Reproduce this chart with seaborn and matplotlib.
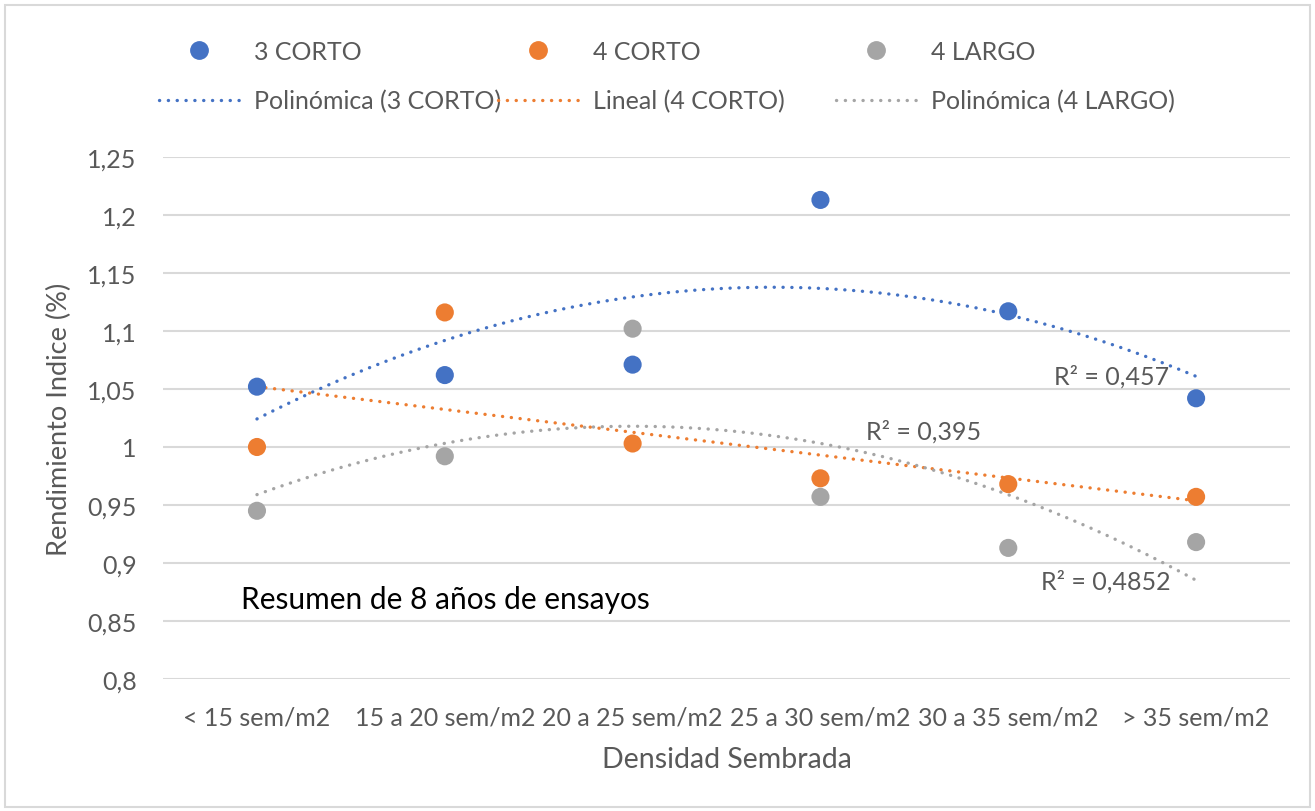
import numpy as np
import pandas as pd
import matplotlib
matplotlib.use('Agg')
import matplotlib.pyplot as plt
from matplotlib.patches import Rectangle
from matplotlib.lines import Line2D
import seaborn as sns

# datos
categorias = ['< 15 sem/m2', '15 a 20 sem/m2', '20 a 25 sem/m2',
              '25 a 30 sem/m2', '30 a 35 sem/m2', '> 35 sem/m2']
corto3 = [1.052, 1.062, 1.071, 1.213, 1.117, 1.042]
corto4 = [1.000, 1.116, 1.003, 0.973, 0.968, 0.957]
largo4 = [0.945, 0.992, 1.102, 0.957, 0.913, 0.918]
series = ['3 CORTO', '4 CORTO', '4 LARGO']
tendencias = ['Polinómica (3 CORTO)', 'Lineal (4 CORTO)', 'Polinómica (4 LARGO)']
grados = [2, 1, 2]
r2_textos = ['R² = 0,457', 'R² = 0,395', 'R² = 0,4852']
yticks = [0.8, 0.85, 0.9, 0.95, 1.0, 1.05, 1.1, 1.15, 1.2, 1.25]

colores = ['#4472C4', '#ED7D31', '#A5A5A5']
gris_txt = '#595959'
punteado = (0, (0.05, 2.6))

sns.set_theme(style='white')
plt.rcParams['font.family'] = ['Lato', 'DejaVu Sans']

x = np.arange(1, len(categorias) + 1)
df = pd.DataFrame({'x': np.tile(x, 3),
                   'y': corto3 + corto4 + largo4,
                   'serie': np.repeat(series, len(x))})

fig = plt.figure(figsize=(13.15, 8.12), dpi=100)
ax = fig.add_axes([0.124, 0.1626, 0.857, 0.6428])

# lineas de tendencia (ajuste sobre los datos)
xs = np.linspace(1, len(categorias), 200)
for vals, g, col in zip([corto3, corto4, largo4], grados, colores):
    coef = np.polyfit(x, vals, g)
    sns.lineplot(x=xs, y=np.polyval(coef, xs), ax=ax, color=col, lw=2.4,
                 linestyle=punteado, dash_capstyle='round', zorder=3)

sns.scatterplot(data=df, x='x', y='y', hue='serie', palette=colores, s=170,
                edgecolor='none', ax=ax, legend=False, zorder=4)

ax.set_xlim(0.5, len(categorias) + 0.5)
ax.set_ylim(0.8, 1.25)
ax.set_yticks(yticks)
ax.set_yticklabels([f'{v:g}'.replace('.', ',') for v in yticks])
ax.set_xticks(x)
ax.set_xticklabels(categorias)
ax.tick_params(axis='both', length=0, labelsize=18, labelcolor=gris_txt)
ax.tick_params(axis='x', pad=19)
ax.tick_params(axis='y', pad=19)
ax.grid(axis='y', color='#D9D9D9', lw=1.5)
ax.grid(axis='x', visible=False)
for s in ax.spines.values():
    s.set_visible(False)

ax.set_xlabel('Densidad Sembrada', fontsize=20.5, color=gris_txt, labelpad=13)
ax.set_ylabel('Rendimiento Indice (%)', fontsize=19.5, color=gris_txt, labelpad=11)

# etiquetas R²
ax.text(5.55, 1.061, r2_textos[0], fontsize=18, color=gris_txt, ha='center', va='center')
ax.text(4.55, 1.014, r2_textos[1], fontsize=18, color=gris_txt, ha='center', va='center')
ax.text(5.52, 0.8845, r2_textos[2], fontsize=18, color=gris_txt, ha='center', va='center')

ax.text(0.915, 0.869, 'Resumen de 8 años de ensayos', fontsize=21.5, color='black',
        ha='left', va='center')

# leyenda: una columna por serie
for i, (nom, tend, col) in enumerate(zip(series, tendencias, colores)):
    h = [Line2D([], [], marker='o', ls='none', color=col, markersize=12.5),
         Line2D([], [], color=col, lw=2.4, linestyle=punteado, dash_capstyle='round')]
    leg = fig.legend(h, [nom, tend], loc='center left',
                     bbox_to_anchor=(0.121 + i * 0.2575, 0.905), frameon=False,
                     fontsize=18, handlelength=3.2, handletextpad=0.6,
                     labelspacing=1.05, borderpad=0, borderaxespad=0)
    for t in leg.get_texts():
        t.set_color(gris_txt)

fig.patches.append(Rectangle((0.004, 0.005), 0.992, 0.987, transform=fig.transFigure,
                             fill=False, edgecolor='#D9D9D9', lw=1.5))

fig.savefig('out.png', dpi=100)
